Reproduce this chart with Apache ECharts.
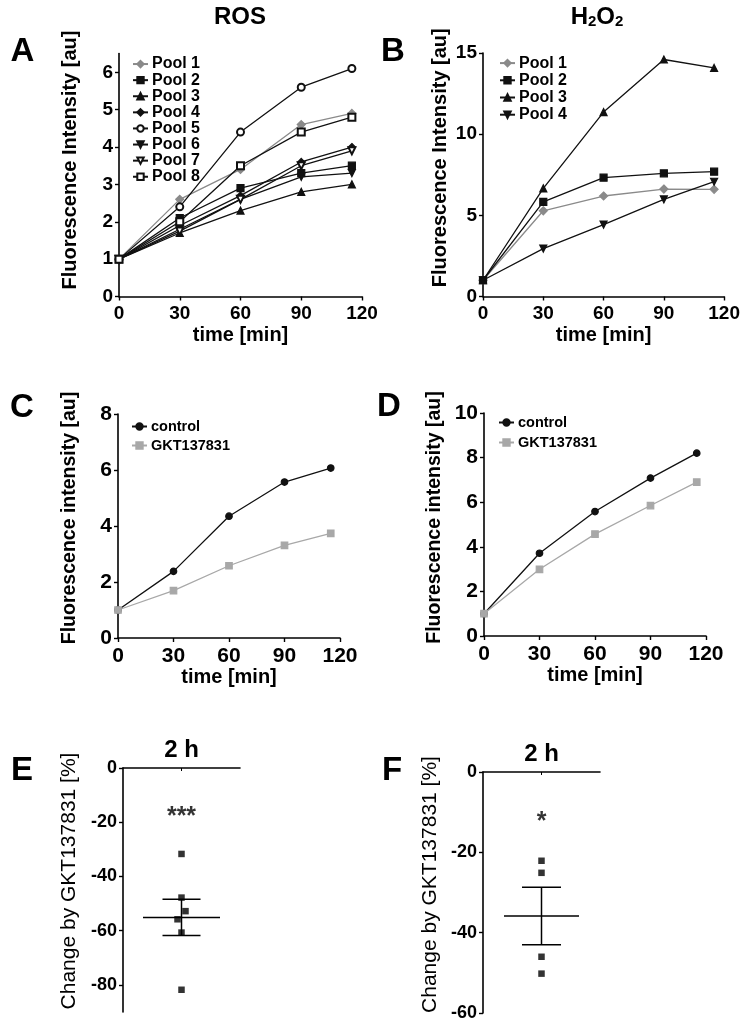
<!DOCTYPE html>
<html>
<head>
<meta charset="utf-8">
<script src="https://cdn.jsdelivr.net/npm/echarts@6/dist/echarts.min.js"></script>
<style>html,body{margin:0;padding:0;background:#fff;}#c{width:743px;height:1022px;}</style>
</head>
<body>
<div id="c"></div>
<script>
// ---------- data ----------
const times = [0, 30, 60, 90, 115];
const timeTicks = [0, 30, 60, 90, 120];

const rosPoolNames = ['Pool 1', 'Pool 2', 'Pool 3', 'Pool 4', 'Pool 5', 'Pool 6', 'Pool 7', 'Pool 8'];
const rosPool1 = [1, 2.6, 3.4, 4.6, 4.9];
const rosPool2 = [1, 2.1, 2.9, 3.3, 3.5];
const rosPool3 = [1, 1.7, 2.3, 2.8, 3.0];
const rosPool4 = [1, 1.9, 2.7, 3.6, 4.0];
const rosPool5 = [1, 2.4, 4.4, 5.6, 6.1];
const rosPool6 = [1, 1.8, 2.6, 3.2, 3.3];
const rosPool7 = [1, 1.75, 2.6, 3.5, 3.9];
const rosPool8 = [1, 2.0, 3.5, 4.4, 4.8];
const rosTicks = [0, 1, 2, 3, 4, 5, 6];

const h2o2PoolNames = ['Pool 1', 'Pool 2', 'Pool 3', 'Pool 4'];
const h2o2Pool1 = [1, 5.28, 6.19, 6.62, 6.6];
const h2o2Pool2 = [1, 5.83, 7.32, 7.59, 7.69];
const h2o2Pool3 = [1, 6.66, 11.36, 14.6, 14.08];
const h2o2Pool4 = [1, 2.95, 4.43, 5.98, 7.07];
const h2o2Ticks = [0, 5, 10, 15];

const treatNames = ['control', 'GKT137831'];
const rosControl = [1, 2.38, 4.35, 5.57, 6.07];
const rosGKT = [1, 1.69, 2.58, 3.31, 3.74];
const rosCDTicks = [0, 2, 4, 6, 8];
const h2o2Control = [1, 3.71, 5.58, 7.08, 8.2];
const h2o2GKT = [1, 2.99, 4.57, 5.85, 6.9];
const h2o2DTicks = [0, 2, 4, 6, 8, 10];

const changeCategory = ['2 h'];
const rosChange = [-31.7, -47.8, -52.8, -55.8, -60.7, -81.8];
const h2o2Change = [-22.1, -25.1, -46.0, -50.2];
const rosChangeTicks = [0, -20, -40, -60, -80];
const h2o2ChangeTicks = [0, -20, -40, -60];
const rosSignif = '***';
const h2o2Signif = '*';
const rosSignifAt = -16;
const h2o2SignifAt = -11;

// ---------- helpers ----------
const BLACK = '#111';
const GREY = '#8a8a8a';
const LGREY = '#a8a8a8';
const FONT = 'Liberation Sans, Arial, sans-serif';
const NARROW = 'Liberation Sans Narrow, Arial Narrow, Liberation Sans, sans-serif';

function meanSem(arr) {
  const n = arr.length;
  const m = arr.reduce((a, b) => a + b, 0) / n;
  const sd = Math.sqrt(arr.reduce((a, b) => a + (b - m) * (b - m), 0) / (n - 1));
  return [m, sd / Math.sqrt(n)];
}
function pairs(vals) { return times.map((t, i) => [t, vals[i]]); }

function timeAxis(gi, fontFam, fontSize) {
  return {
    type: 'value', gridIndex: gi, min: 0, max: 120, interval: 30,
    name: 'time [min]', nameLocation: 'middle', nameGap: 29,
    nameTextStyle: { fontFamily: FONT, fontWeight: 'bold', fontSize: 20, color: '#000' },
    axisLine: { show: true, onZero: false, lineStyle: { color: '#000', width: 1.6 } },
    axisTick: { show: true, length: 4, lineStyle: { color: '#000', width: 1.4 } },
    axisLabel: { color: '#000', fontFamily: fontFam, fontWeight: 'bold', fontSize: fontSize, margin: 8 },
    splitLine: { show: false }
  };
}
function valAxis(gi, min, max, ticks, name, nameGap, shift, fontFam, fontSize, nameSize, nameWeight) {
  return {
    type: 'value', gridIndex: gi, min: min, max: max,
    name: name, nameLocation: 'middle', nameGap: nameGap,
    nameTextStyle: { fontFamily: FONT, fontWeight: nameWeight, fontSize: nameSize, color: '#000',
      padding: shift > 0 ? [0, 0, 0, 2 * shift] : [0, -2 * shift, 0, 0] },
    axisLine: { show: true, onZero: false, lineStyle: { color: '#000', width: 1.6 } },
    axisTick: { show: true, length: 4, customValues: ticks, lineStyle: { color: '#000', width: 1.4 } },
    axisLabel: { color: '#000', fontFamily: fontFam, fontWeight: 'bold', fontSize: fontSize, margin: 6, customValues: ticks },
    splitLine: { show: false }
  };
}
function lineSeries(prefix, name, vals, gi, symbol, color, opts) {
  return Object.assign({
    type: 'line', name: prefix + name, xAxisIndex: gi, yAxisIndex: gi,
    data: pairs(vals), symbol: symbol, symbolSize: 7,
    lineStyle: { color: color, width: 1.3 },
    itemStyle: { color: color, borderColor: color, borderWidth: 1.2 },
    z: 3
  }, opts || {});
}
const invTri = 'path://M0,0 L10,0 L5,9 Z';

const series = [];
// A
const rosSets = [rosPool1, rosPool2, rosPool3, rosPool4, rosPool5, rosPool6, rosPool7, rosPool8];
const rosSym = ['diamond', 'rect', 'triangle', 'diamond', 'emptyCircle', invTri, 'emptyTriangle', 'emptyRect'];
rosSets.forEach((vals, i) => {
  const opts = {};
  if (i === 6) opts.symbolRotate = 180;
  if (i === 0) opts.symbolSize = 8;
  series.push(lineSeries('A:', rosPoolNames[i], vals, 0, rosSym[i], i === 0 ? GREY : BLACK, opts));
});
// B
const h2o2Sets = [h2o2Pool1, h2o2Pool2, h2o2Pool3, h2o2Pool4];
const h2o2Sym = ['diamond', 'rect', 'triangle', invTri];
h2o2Sets.forEach((vals, i) => {
  series.push(lineSeries('B:', h2o2PoolNames[i], vals, 1, h2o2Sym[i], i === 0 ? GREY : BLACK, i === 0 ? { symbolSize: 8 } : {}));
});
// C, D
series.push(lineSeries('C:', treatNames[0], rosControl, 2, 'circle', BLACK, { symbolSize: 6.5 }));
series.push(lineSeries('C:', treatNames[1], rosGKT, 2, 'rect', LGREY, { symbolSize: 6.5 }));
series.push(lineSeries('D:', treatNames[0], h2o2Control, 3, 'circle', BLACK, { symbolSize: 6.5 }));
series.push(lineSeries('D:', treatNames[1], h2o2GKT, 3, 'rect', LGREY, { symbolSize: 6.5 }));

// E, F scatter + mean/SEM
const rosJitter = [0, 0, 4, -4, 0, 0];
function scatterSeries(gi, vals, jitter) {
  return {
    type: 'scatter', xAxisIndex: gi, yAxisIndex: gi, symbol: 'rect', symbolSize: 6.5,
    itemStyle: { color: '#000' },
    data: vals.map((v, i) => ({ value: [changeCategory[0], v], symbolOffset: [jitter ? jitter[i] : 0, 0] })), z: 4
  };
}
function meanSeries(gi, vals, halfW, capHalf) {
  const ms = meanSem(vals);
  return {
    type: 'custom', xAxisIndex: gi, yAxisIndex: gi, z: 3,
    data: [[0, ms[0], ms[0] + ms[1], ms[0] - ms[1]]],
    renderItem: function (params, api) {
      const c = api.coord([api.value(0), api.value(1)]);
      const hi = api.coord([api.value(0), api.value(2)]);
      const lo = api.coord([api.value(0), api.value(3)]);
      const x = c[0];
      const st = { stroke: '#000', lineWidth: 1.5 };
      return { type: 'group', children: [
        { type: 'line', shape: { x1: x - halfW, y1: c[1], x2: x + halfW, y2: c[1] }, style: st },
        { type: 'line', shape: { x1: x - capHalf, y1: hi[1], x2: x + capHalf, y2: hi[1] }, style: st },
        { type: 'line', shape: { x1: x - capHalf, y1: lo[1], x2: x + capHalf, y2: lo[1] }, style: st },
        { type: 'line', shape: { x1: x, y1: hi[1], x2: x, y2: lo[1] }, style: st }
      ] };
    }
  };
}
function starSeries(gi, text, at) {
  return {
    type: 'scatter', xAxisIndex: gi, yAxisIndex: gi, symbolSize: 0, silent: true,
    data: [[changeCategory[0], at]],
    label: { show: true, position: 'inside', formatter: text, offset: [0, 6],
      fontFamily: FONT, fontWeight: 'bold', fontSize: 25, color: '#000' }
  };
}
series.push(scatterSeries(4, rosChange, rosJitter));
series.push(meanSeries(4, rosChange, 38.5, 19));
series.push(starSeries(4, rosSignif, rosSignifAt));
series.push(scatterSeries(5, h2o2Change, null));
series.push(meanSeries(5, h2o2Change, 37.5, 19.5));
series.push(starSeries(5, h2o2Signif, h2o2SignifAt));

function catAxis(gi) {
  return {
    type: 'category', gridIndex: gi, data: changeCategory, position: 'top',
    axisLine: { show: true, onZero: false, lineStyle: { color: '#000', width: 1.6 } },
    axisTick: { show: true, inside: true, alignWithLabel: true, length: 3, lineStyle: { color: '#000' } },
    axisLabel: { color: '#000', fontFamily: FONT, fontWeight: 'bold', fontSize: 24, margin: 6 },
    splitLine: { show: false }
  };
}

function legendFor(prefix, names, left, top, fontSize, lineH, w) {
  return {
    orient: 'vertical', left: left, top: top, itemGap: 0, itemWidth: w, itemHeight: 8,
    selectedMode: false, data: names.map(n => prefix + n),
    formatter: function (n) { return n.slice(2); },
    textStyle: { fontFamily: FONT, fontWeight: 'bold', fontSize: fontSize, color: '#000', lineHeight: lineH, padding: [0, 0, 0, -1] }
  };
}

function txt(x, y, text, size, extra) {
  return { type: 'text', x: x, y: y, style: Object.assign({ text: text, fontFamily: FONT, fontWeight: 'bold', fontSize: size,
    fill: '#000', textAlign: 'center', textVerticalAlign: 'middle' }, extra || {}) };
}

const option = {
  animation: false,
  backgroundColor: '#fff',
  grid: [
    { left: 119, top: 53.6, width: 243, height: 242.9 },
    { left: 483, top: 53, width: 242, height: 243.5 },
    { left: 118, top: 414, width: 222, height: 224 },
    { left: 484, top: 413, width: 222, height: 223 },
    { left: 123, top: 768, width: 117, height: 244 },
    { left: 483, top: 772, width: 117, height: 241 }
  ],
  xAxis: [
    timeAxis(0, FONT, 19), timeAxis(1, FONT, 19), timeAxis(2, NARROW, 21), timeAxis(3, NARROW, 21),
    catAxis(4), catAxis(5)
  ],
  yAxis: [
    valAxis(0, 0, 6.5, rosTicks, 'Fluorescence Intensity [au]', 39, 15, FONT, 19, 20, 'bold'),
    valAxis(1, 0, 15, h2o2Ticks, 'Fluorescence Intensity [au]', 33, 17, FONT, 19, 20, 'bold'),
    valAxis(2, 0, 8, rosCDTicks, 'Fluorescence intensity [au]', 38, 8, NARROW, 21, 19.5, 'bold'),
    valAxis(3, 0, 10, h2o2DTicks, 'Fluorescence intensity [au]', 39, 7, NARROW, 21, 19.5, 'bold'),
    valAxis(4, -90, 0, rosChangeTicks, 'Change by GKT137831 [%]', 43, 9, FONT, 18, 21, 'normal'),
    valAxis(5, -60, 0, h2o2ChangeTicks, 'Change by GKT137831 [%]', 42, 8, FONT, 18, 21, 'normal')
  ],
  legend: [
    legendFor('A:', rosPoolNames, 127, 51, 16, 16.1, 15),
    legendFor('B:', h2o2PoolNames, 494, 49.5, 16, 17.2, 15),
    legendFor('C:', treatNames, 126, 412, 14.5, 19, 15),
    legendFor('D:', treatNames, 493, 407.5, 14.5, 20, 15)
  ],
  graphic: [
    txt(240, 17, 'ROS', 24),
    { type: 'text', x: 597, y: 17, style: { text: '{a|H}{s|2}{a|O}{s|2}', textAlign: 'center', textVerticalAlign: 'middle',
      rich: { a: { fontFamily: FONT, fontWeight: 'bold', fontSize: 24, fill: '#000' },
              s: { fontFamily: FONT, fontWeight: 'bold', fontSize: 15, fill: '#000', padding: [10, 0, 0, 0] } } } },
    txt(22.5, 52, 'A', 33), txt(393, 52, 'B', 33), txt(22, 408, 'C', 33), txt(389, 407, 'D', 33),
    txt(22, 771, 'E', 33), txt(392, 771, 'F', 33)
  ],
  series: series
};

const chart = echarts.init(document.getElementById('c'), null, { renderer: 'canvas' });
chart.setOption(option);
</script>
</body>
</html>
